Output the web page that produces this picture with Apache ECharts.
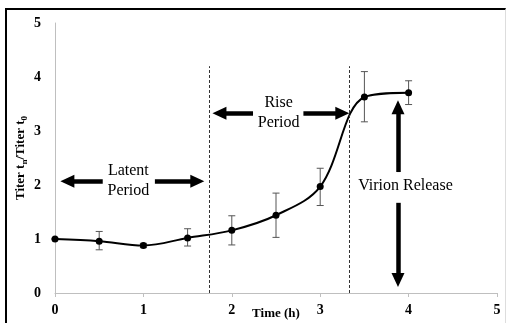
<!DOCTYPE html>
<html>
<head>
<meta charset="utf-8">
<script src="https://cdn.jsdelivr.net/npm/echarts@6/dist/echarts.min.js"></script>
<style>
  html, body { margin: 0; padding: 0; background: #fff; }
  #wrap { position: relative; width: 507px; height: 323px; overflow: hidden; }
  #main { width: 507px; height: 323px; }
  .frame {
    position: absolute; left: 5px; top: 8px; width: 498px; height: 340px;
    border-top: 2px solid #000; border-left: 2px solid #000; border-right: 1px solid #ddd;
    pointer-events: none;
  }
</style>
</head>
<body>
<div id="wrap">
  <div id="main"></div>
  <div class="frame"></div>
</div>
<script>
// time points (h) and titer ratio
const times = [0, 0.5, 1, 1.5, 2, 2.5, 3, 3.5, 4];
const titer = [1.0, 0.96, 0.88, 1.02, 1.16, 1.44, 1.97, 3.63, 3.71];
// error bar ends
const errLow = [1.0, 0.8, 0.84, 0.87, 0.89, 1.03, 1.62, 3.17, 3.49];
const errHigh = [1.0, 1.14, 0.92, 1.19, 1.43, 1.85, 2.31, 4.1, 3.93];
const xTicks = [0, 1, 2, 3, 4, 5];
const yTicks = [0, 1, 2, 3, 4, 5];

// dashed period boundaries [x, top]
const boundaries = [[1.75, 4.2], [3.33, 4.2]];
// arrows [x1, y1, x2, y2] (tail -> head)
const arrows = [
  [0.54, 2.07, 0.14, 2.07],
  [1.13, 2.07, 1.61, 2.07],
  [2.24, 3.33, 1.86, 3.33],
  [2.81, 3.33, 3.25, 3.33],
  [3.88, 2.24, 3.88, 3.44],
  [3.88, 1.67, 3.88, 0.24]
];
// annotation texts
const notes = [
  { name: "Latent\nPeriod", value: [0.83, 2.07] },
  { name: "Rise\nPeriod", value: [2.53, 3.33] },
  { name: "Virion Release", value: [3.965, 1.98] }
];

const serif = "Liberation Serif";
const chart = echarts.init(document.getElementById("main"));

const markLines = [];
boundaries.forEach((b) => {
  markLines.push([
    { coord: [b[0], 0], symbol: "none", lineStyle: { type: [3, 2], color: "#333", width: 1 } },
    { coord: [b[0], b[1]], symbol: "none" }
  ]);
});
arrows.forEach((a) => {
  markLines.push([
    { coord: [a[0], a[1]], symbol: "none", lineStyle: { type: "solid", color: "#000", width: 4.5 } },
    { coord: [a[2], a[3]], symbol: "triangle", symbolSize: [13, 14] }
  ]);
});

const options = {
  animation: false,
  grid: { left: 55, right: 10, top: 23, bottom: 30, containLabel: false, outerBoundsMode: "none" },
  xAxis: {
    type: "value",
    min: 0,
    max: 5,
    interval: 1,
    name: "Time (h)",
    nameLocation: "middle",
    nameGap: 14,
    nameMoveOverlap: false,
    nameTextStyle: { fontFamily: serif, fontWeight: "bold", fontSize: 13, color: "#000" },
    axisLine: { lineStyle: { color: "#bfbfbf", width: 1 } },
    axisTick: { show: true, length: 4, lineStyle: { color: "#bfbfbf" } },
    axisLabel: {
      margin: 10,
      fontFamily: serif, fontWeight: "bold", fontSize: 14, color: "#000",
      formatter: (v) => (xTicks.indexOf(v) >= 0 ? String(v) : "")
    },
    splitLine: { show: false }
  },
  yAxis: {
    type: "value",
    min: 0,
    max: 5,
    interval: 1,
    name: "{a|Titer t}{s|n}{a|/Titer t}{s|0}",
    nameLocation: "middle",
    nameGap: 26,
    nameMoveOverlap: false,
    nameTextStyle: {
      color: "#000",
      rich: {
        a: { fontFamily: serif, fontWeight: "bold", fontSize: 13, lineHeight: 16, color: "#000" },
        s: { fontFamily: serif, fontWeight: "bold", fontSize: 9, lineHeight: 16, verticalAlign: "bottom", padding: [6, 0, 0, 0], color: "#000" }
      }
    },
    axisLine: { show: true, lineStyle: { color: "#bfbfbf", width: 1 } },
    axisTick: { show: false },
    axisLabel: {
      margin: 14,
      fontFamily: serif, fontWeight: "bold", fontSize: 14, color: "#000",
      formatter: (v) => (yTicks.indexOf(v) >= 0 ? String(v) : "")
    },
    splitLine: { show: false }
  },
  series: [
    {
      name: "errors",
      type: "custom",
      data: times.map((t, i) => [t, errLow[i], errHigh[i]]),
      renderItem: (params, api) => {
        const lo = api.coord([api.value(0), api.value(1)]);
        const hi = api.coord([api.value(0), api.value(2)]);
        const cap = 3.5;
        const st = { stroke: "#555", lineWidth: 1 };
        return {
          type: "group",
          children: [
            { type: "line", shape: { x1: lo[0], y1: lo[1], x2: hi[0], y2: hi[1] }, style: st },
            { type: "line", shape: { x1: lo[0] - cap, y1: lo[1], x2: lo[0] + cap, y2: lo[1] }, style: st },
            { type: "line", shape: { x1: hi[0] - cap, y1: hi[1], x2: hi[0] + cap, y2: hi[1] }, style: st }
          ]
        };
      },
      z: 1
    },
    {
      name: "titer",
      type: "line",
      data: times.map((t, i) => [t, titer[i]]),
      smooth: 0.35,
      symbol: "circle",
      symbolSize: 7,
      itemStyle: { color: "#000" },
      lineStyle: { color: "#000", width: 2 },
      z: 3,
      markLine: {
        silent: true,
        animation: false,
        label: { show: false },
        data: markLines
      }
    },
    {
      name: "notes",
      type: "scatter",
      data: notes,
      symbolSize: 0,
      silent: true,
      itemStyle: { opacity: 1 },
      label: {
        show: true,
        position: "inside",
        formatter: (p) => p.name,
        fontFamily: serif,
        fontSize: 16,
        lineHeight: 20,
        color: "#000",
        textBorderWidth: 0,
        align: "center"
      },
      z: 4
    }
  ]
};

chart.setOption(options);
</script>
</body>
</html>
